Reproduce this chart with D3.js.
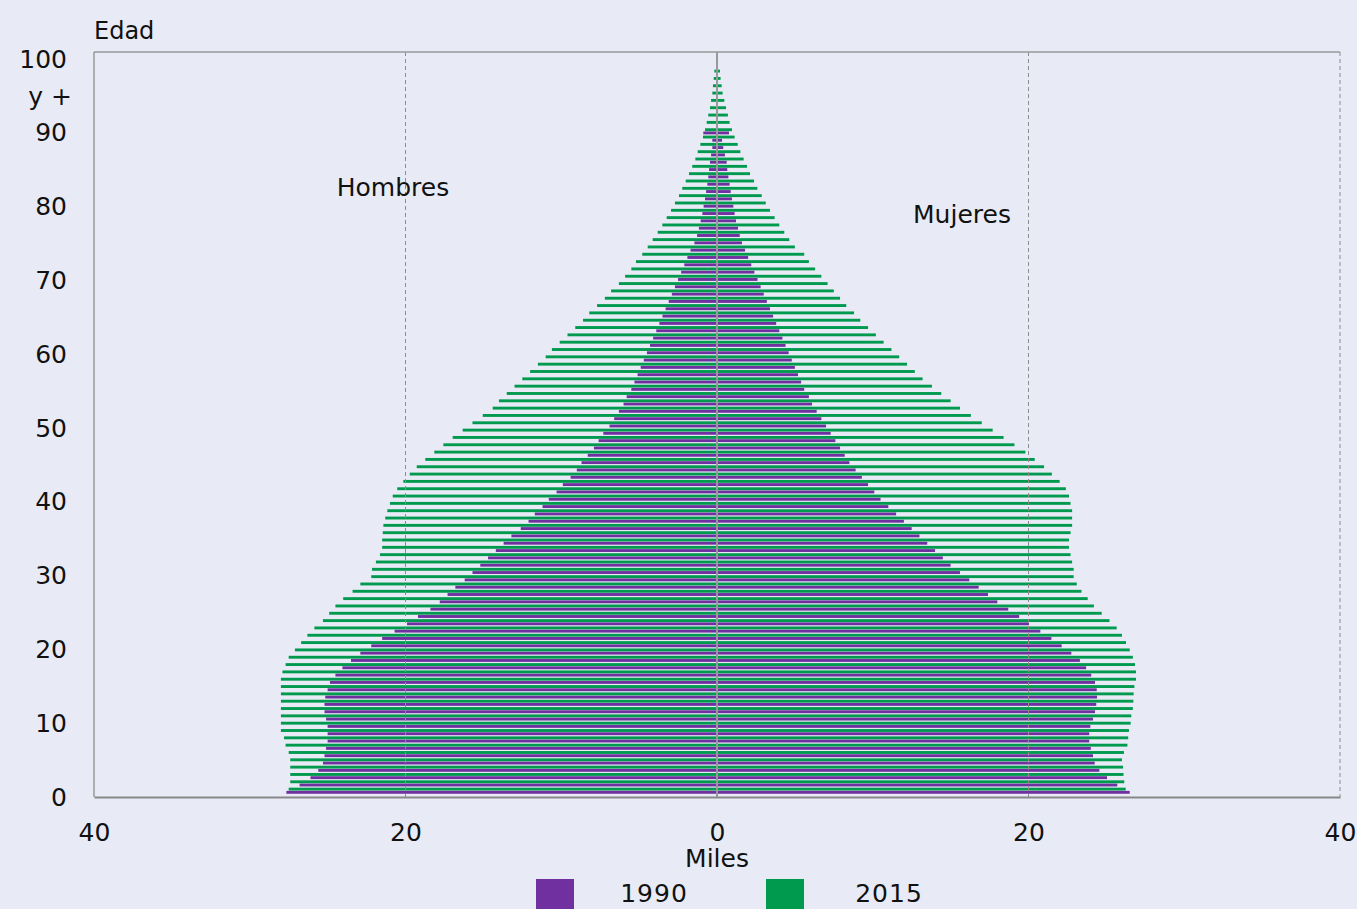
<!DOCTYPE html>
<html>
<head>
<meta charset="utf-8">
<script src="https://cdn.jsdelivr.net/npm/d3@7"></script>
<style>
  body { margin: 0; background: #e8ebf6; }
  svg text { font-family: "DejaVu Sans", sans-serif; fill: #111; }
</style>
</head>
<body>
<svg id="chart" width="1357" height="909"></svg>
<script>
// Ages 0 .. 100 (last is "100 y +")
var ages = d3.range(0, 101);

// Thousands of people by single year of age
var men1990 = [27.65,26.8,26.1,25.6,25.3,25.2,25.1,25.0,25.0,25.0,
  25.1,25.2,25.2,25.15,25.0,24.85,24.5,24.05,23.5,22.9,
  22.2,21.5,20.7,19.9,19.2,18.4,17.8,17.3,16.8,16.2,
  15.7,15.2,14.7,14.2,13.7,13.2,12.6,12.1,11.7,11.2,
  10.8,10.3,9.9,9.4,9.0,8.7,8.3,7.9,7.6,7.3,
  6.9,6.6,6.3,6.0,5.8,5.5,5.3,5.1,4.9,4.7,
  4.5,4.3,4.1,3.9,3.7,3.5,3.3,3.1,2.9,2.7,
  2.5,2.3,2.1,1.9,1.7,1.45,1.28,1.16,1.05,0.94,
  0.86,0.77,0.7,0.62,0.56,0.51,0.45,0.38,0.3,0.3,
  0.88,0,0,0,0,0,0,0,0,0,0];
var women1990 = [26.5,25.7,25.04,24.55,24.25,24.14,24.0,23.9,23.9,23.97,
  24.14,24.27,24.35,24.4,24.38,24.27,24.03,23.7,23.3,22.75,
  22.13,21.47,20.76,20.03,19.4,18.7,18.0,17.4,16.8,16.2,
  15.6,15.0,14.5,14.0,13.5,13.0,12.5,12.0,11.5,11.0,
  10.5,10.1,9.7,9.3,8.9,8.5,8.2,7.9,7.6,7.3,
  7.0,6.7,6.4,6.1,5.9,5.6,5.4,5.2,5.0,4.8,
  4.6,4.4,4.2,4.0,3.8,3.6,3.4,3.2,3.0,2.8,
  2.6,2.4,2.2,2.0,1.8,1.6,1.46,1.35,1.22,1.13,
  1.05,0.96,0.88,0.81,0.73,0.66,0.62,0.51,0.4,0.32,
  0.77,0,0,0,0,0,0,0,0,0,0];
var men2015 = [27.5,27.4,27.4,27.4,27.4,27.5,27.7,27.8,28.0,28.0,
  28.0,28.0,28.0,28.0,28.0,28.0,27.9,27.7,27.5,27.1,
  26.7,26.3,25.85,25.3,24.9,24.5,24.0,23.4,22.9,22.2,
  22.15,21.9,21.64,21.5,21.5,21.46,21.42,21.3,21.17,21.0,
  20.82,20.53,20.14,19.73,19.28,18.73,18.15,17.57,16.97,16.33,
  15.7,15.04,14.4,14.0,13.5,13.0,12.5,12.0,11.5,11.0,
  10.6,10.1,9.6,9.1,8.6,8.2,7.7,7.2,6.8,6.3,
  5.9,5.5,5.2,4.8,4.45,4.13,3.81,3.51,3.23,2.95,
  2.7,2.44,2.23,2.01,1.8,1.59,1.39,1.24,1.07,0.9,
  0.77,0.66,0.56,0.45,0.38,0.3,0.26,0.21,0.17,0,0];
var women2015 = [26.24,26.15,26.1,26.07,26.0,26.13,26.35,26.4,26.45,26.56,
  26.6,26.7,26.73,26.75,26.8,26.9,26.9,26.84,26.7,26.5,
  26.26,26.0,25.66,25.2,24.7,24.2,23.8,23.4,23.1,22.9,
  22.9,22.8,22.7,22.6,22.6,22.7,22.8,22.8,22.8,22.7,
  22.6,22.4,22.0,21.5,21.0,20.4,19.8,19.1,18.4,17.7,
  17.0,16.3,15.6,15.0,14.4,13.8,13.2,12.7,12.2,11.7,
  11.2,10.7,10.2,9.7,9.2,8.8,8.3,7.9,7.5,7.1,
  6.7,6.3,5.9,5.6,5.0,4.64,4.32,4.0,3.7,3.4,
  3.13,2.87,2.59,2.38,2.12,1.93,1.71,1.5,1.33,1.13,
  0.96,0.81,0.7,0.58,0.47,0.36,0.3,0.23,0.19,0,0];

var xTicks = [-40, -20, 0, 20, 40];
var yTicks = [0, 10, 20, 30, 40, 50, 60, 70, 80, 90, 100];
var years = ["2015", "1990"];
var colors = {"1990": "#7030a0", "2015": "#009a4e"};

var svg = d3.select("#chart");
var plotLeft = 94, plotRight = 1340, plotTop = 52, plotBottom = 797;

var x = d3.scaleLinear().domain([-40, 40]).range([plotLeft, plotRight]);
var yTick = d3.scaleLinear().domain([0, 100]).range([plotBottom, 59]);
var yAge = d3.scaleBand().domain(ages).range([plotBottom, 57]);
var yInner = d3.scaleBand().domain(years).range([-2.0, 4.1]).paddingInner(0.1);

// rows: one per age and year
var rows = [];
ages.forEach(function(a, i){
  rows.push({age: a, year: "1990", m: men1990[i], f: women1990[i]});
  rows.push({age: a, year: "2015", m: men2015[i], f: women2015[i]});
});

var gBars = svg.append("g");
gBars.selectAll("rect.men")
  .data(rows.filter(d => d.m > 0))
  .enter().append("rect")
  .attr("class", "men")
  .attr("x", d => x(-d.m))
  .attr("width", d => x(0) - x(-d.m))
  .attr("y", d => yAge(d.age) + yInner(d.year))
  .attr("height", yInner.bandwidth())
  .attr("fill", d => colors[d.year]);
gBars.selectAll("rect.women")
  .data(rows.filter(d => d.f > 0))
  .enter().append("rect")
  .attr("class", "women")
  .attr("x", x(0))
  .attr("width", d => x(d.f) - x(0))
  .attr("y", d => yAge(d.age) + yInner(d.year))
  .attr("height", yInner.bandwidth())
  .attr("fill", d => colors[d.year]);

// grid lines on top of the bars
svg.append("g").selectAll("line")
  .data([-20, 20, 40])
  .enter().append("line")
  .attr("x1", d => x(d)).attr("x2", d => x(d))
  .attr("y1", plotTop).attr("y2", plotBottom)
  .attr("stroke", "#8c8c8c").attr("stroke-width", 1)
  .attr("stroke-dasharray", "4,3");
svg.append("line")
  .attr("x1", x(0)).attr("x2", x(0)).attr("y1", plotTop).attr("y2", plotBottom)
  .attr("stroke", "#999").attr("stroke-width", 2);
// frame
svg.append("line").attr("x1", plotLeft).attr("x2", plotRight).attr("y1", plotTop).attr("y2", plotTop)
  .attr("stroke", "#999").attr("stroke-width", 1.5);
svg.append("line").attr("x1", plotLeft).attr("x2", plotLeft).attr("y1", plotTop).attr("y2", plotBottom)
  .attr("stroke", "#999").attr("stroke-width", 1.5);

// x axis
var xAxis = svg.append("g")
  .attr("transform", "translate(0," + plotBottom + ")")
  .call(d3.axisBottom(x).tickValues(xTicks).tickSize(0).tickPadding(26)
    .tickFormat(d => Math.abs(d)));
xAxis.select(".domain").attr("stroke", "#888").attr("stroke-width", 2);
xAxis.selectAll("text").attr("font-size", 25).attr("font-family", "DejaVu Sans");

// y axis
var yAxis = svg.append("g")
  .attr("transform", "translate(" + plotLeft + ",0)")
  .call(d3.axisLeft(yTick).tickValues(yTicks).tickSize(0).tickPadding(27));
yAxis.select(".domain").remove();
yAxis.selectAll("text").attr("font-size", 25).attr("font-family", "DejaVu Sans");
yAxis.selectAll(".tick").filter(d => d === 100).select("text")
  .append("tspan").attr("x", -22).attr("dy", "1.5em").text("y +");

svg.append("text").attr("x", 94).attr("y", 39).attr("font-size", 24).text("Edad");
svg.append("text").attr("x", x(0)).attr("y", 867).attr("font-size", 25)
  .attr("text-anchor", "middle").text("Miles");
svg.append("text").attr("x", 393).attr("y", 196).attr("font-size", 25)
  .attr("text-anchor", "middle").text("Hombres");
svg.append("text").attr("x", 962).attr("y", 223).attr("font-size", 25)
  .attr("text-anchor", "middle").text("Mujeres");

// legend
var legendItems = [{year: "1990", sx: 536, tx: 654}, {year: "2015", sx: 766, tx: 889}];
var lg = svg.append("g");
lg.selectAll("rect").data(legendItems).enter().append("rect")
  .attr("x", d => d.sx).attr("y", 879).attr("width", 38).attr("height", 38)
  .attr("fill", d => colors[d.year]);
lg.selectAll("text").data(legendItems).enter().append("text")
  .attr("x", d => d.tx).attr("y", 902).attr("font-size", 25)
  .attr("text-anchor", "middle").attr("letter-spacing", 1).text(d => d.year);
</script>
</body>
</html>
